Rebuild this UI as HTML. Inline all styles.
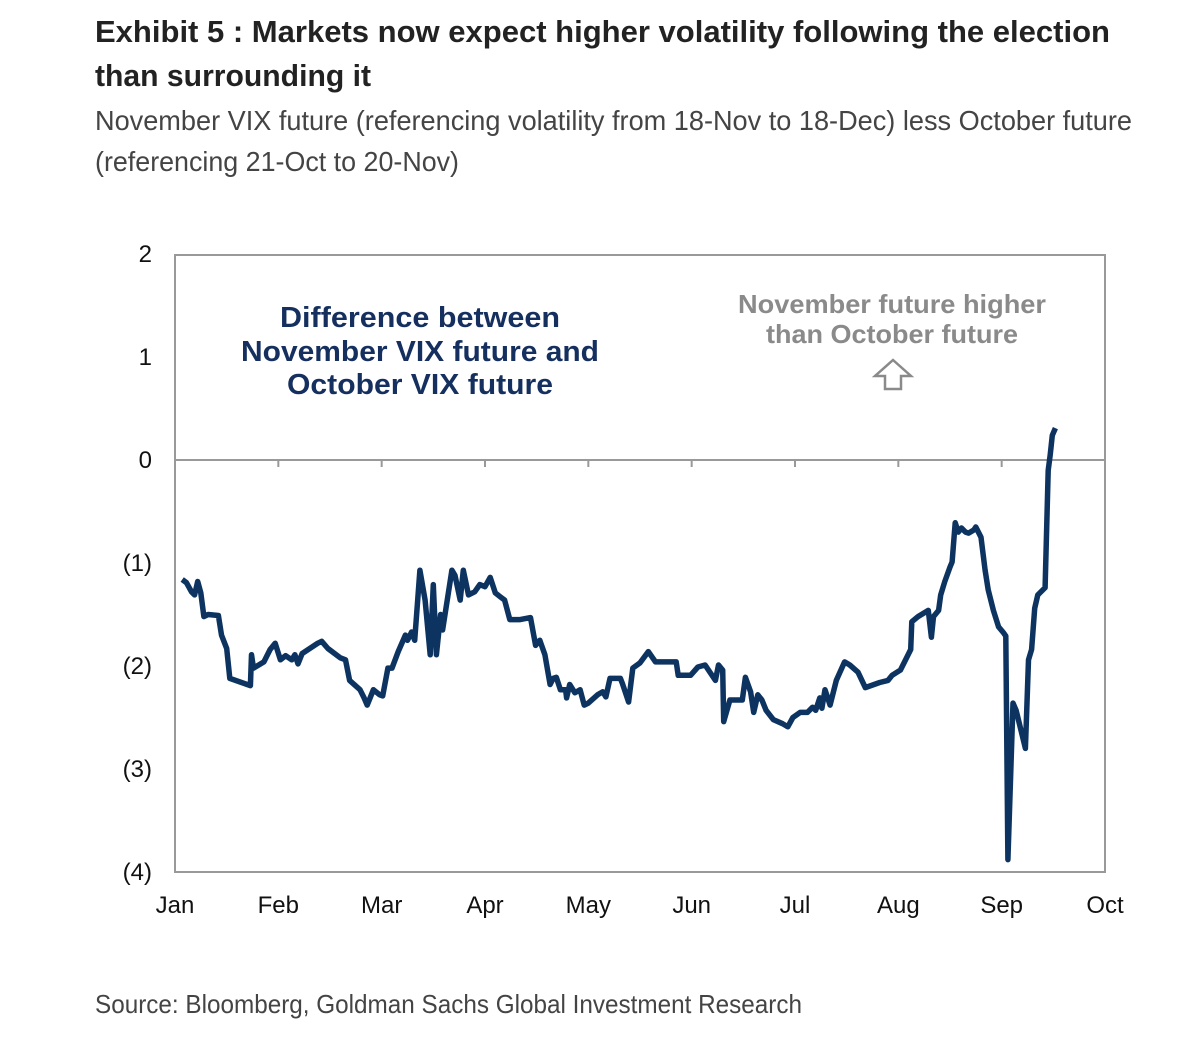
<!DOCTYPE html>
<html><head><meta charset="utf-8"><style>body{margin:0;background:#fff}svg{display:block}</style></head>
<body>
<svg id="chart" width="1200" height="1048" viewBox="0 0 1200 1048" font-family="'Liberation Sans', sans-serif">
<text x="95" y="42" font-size="31" font-weight="bold" fill="#222" textLength="1015" lengthAdjust="spacingAndGlyphs">Exhibit 5 : Markets now expect higher volatility following the election</text>
<text x="95" y="86" font-size="31" font-weight="bold" fill="#222" textLength="276" lengthAdjust="spacingAndGlyphs">than surrounding it</text>
<text x="95" y="130" font-size="28" fill="#444" textLength="1037" lengthAdjust="spacingAndGlyphs">November VIX future (referencing volatility from 18-Nov to 18-Dec) less October future</text>
<text x="95" y="171" font-size="28" fill="#444" textLength="364" lengthAdjust="spacingAndGlyphs">(referencing 21-Oct to 20-Nov)</text>
<rect x="175" y="255" width="930" height="617" fill="none" stroke="#999" stroke-width="2"/>
<g id="yaxis"></g>
<g id="xaxis"></g>
<line x1="175" y1="460" x2="1105" y2="460" stroke="#999" stroke-width="2"/>
<g id="xticks"></g>
<path id="series" fill="none" stroke="#0d3461" stroke-width="5.5" stroke-linejoin="round"/>
<g font-size="29" font-weight="bold" fill="#152f5f" text-anchor="middle">
<text x="420" y="327" textLength="280" lengthAdjust="spacingAndGlyphs">Difference between</text>
<text x="420" y="361" textLength="358" lengthAdjust="spacingAndGlyphs">November VIX future and</text>
<text x="420" y="394" textLength="266" lengthAdjust="spacingAndGlyphs">October VIX future</text>
</g>
<g font-size="26" font-weight="bold" fill="#8a8a8a" text-anchor="middle">
<text x="892" y="313" textLength="308" lengthAdjust="spacingAndGlyphs">November future higher</text>
<text x="892" y="343" textLength="252" lengthAdjust="spacingAndGlyphs">than October future</text>
</g>
<path d="M893 360 L911 376 L901 376 L901 389 L885 389 L885 376 L875 376 Z" fill="#fff" stroke="#8a8a8a" stroke-width="2.5"/>
<text x="95" y="1013" font-size="26" fill="#444" textLength="707" lengthAdjust="spacingAndGlyphs">Source: Bloomberg, Goldman Sachs Global Investment Research</text>
</svg>
<script>
const months = ["Jan","Feb","Mar","Apr","May","Jun","Jul","Aug","Sep","Oct"];
const yTicks = [2,1,0,-1,-2,-3,-4];
const yTickLabels = ["2","1","0","(1)","(2)","(3)","(4)"];
const xMonth = [0.07,0.11,0.16,0.19,0.22,0.25,0.28,0.32,0.42,0.45,0.50,0.53,0.73,0.74,0.76,0.86,0.92,0.97,1.02,1.07,1.13,1.16,1.19,1.23,1.38,1.42,1.48,1.60,1.65,1.69,1.79,1.83,1.86,1.92,1.98,2.01,2.06,2.10,2.16,2.23,2.25,2.29,2.32,2.37,2.42,2.47,2.50,2.53,2.57,2.59,2.68,2.71,2.76,2.79,2.84,2.90,2.95,3.00,3.05,3.10,3.15,3.19,3.24,3.34,3.44,3.49,3.53,3.58,3.63,3.66,3.69,3.73,3.78,3.79,3.82,3.87,3.92,3.96,4.00,4.09,4.14,4.17,4.21,4.31,4.33,4.39,4.43,4.50,4.58,4.65,4.85,4.87,4.99,5.06,5.13,5.23,5.26,5.30,5.31,5.37,5.49,5.52,5.57,5.60,5.64,5.68,5.72,5.79,5.88,5.93,5.98,6.05,6.12,6.17,6.20,6.24,6.26,6.29,6.34,6.40,6.48,6.53,6.61,6.68,6.82,6.90,6.94,7.02,7.07,7.12,7.13,7.19,7.29,7.32,7.34,7.39,7.41,7.45,7.50,7.52,7.55,7.58,7.61,7.65,7.68,7.73,7.75,7.80,7.84,7.87,7.92,7.97,8.02,8.04,8.06,8.11,8.14,8.23,8.26,8.29,8.32,8.35,8.42,8.45,8.47,8.49,8.52];
const spread = [-1.16,-1.19,-1.28,-1.31,-1.18,-1.29,-1.52,-1.50,-1.51,-1.70,-1.83,-2.12,-2.19,-1.89,-2.02,-1.96,-1.84,-1.78,-1.94,-1.90,-1.94,-1.89,-1.98,-1.88,-1.78,-1.76,-1.83,-1.92,-1.94,-2.14,-2.23,-2.31,-2.38,-2.23,-2.28,-2.29,-2.02,-2.02,-1.86,-1.70,-1.75,-1.67,-1.75,-1.07,-1.36,-1.89,-1.21,-1.89,-1.50,-1.65,-1.07,-1.12,-1.36,-1.07,-1.31,-1.28,-1.21,-1.23,-1.14,-1.29,-1.33,-1.36,-1.55,-1.55,-1.53,-1.80,-1.75,-1.89,-2.18,-2.12,-2.11,-2.23,-2.23,-2.31,-2.18,-2.26,-2.23,-2.38,-2.36,-2.28,-2.25,-2.30,-2.12,-2.12,-2.17,-2.35,-2.02,-1.97,-1.86,-1.96,-1.96,-2.09,-2.09,-2.01,-1.99,-2.14,-1.99,-2.04,-2.54,-2.33,-2.33,-2.11,-2.25,-2.45,-2.28,-2.33,-2.43,-2.52,-2.56,-2.59,-2.50,-2.45,-2.45,-2.40,-2.43,-2.31,-2.41,-2.23,-2.38,-2.14,-1.96,-1.99,-2.06,-2.21,-2.16,-2.14,-2.09,-2.04,-1.94,-1.84,-1.57,-1.52,-1.46,-1.72,-1.52,-1.46,-1.31,-1.18,-1.04,-0.99,-0.61,-0.70,-0.66,-0.70,-0.71,-0.68,-0.65,-0.75,-1.07,-1.26,-1.46,-1.62,-1.68,-1.71,-3.88,-2.36,-2.43,-2.80,-1.94,-1.84,-1.44,-1.31,-1.24,-0.10,0.05,0.24,0.31];

const X0=175, X1=1105, Y0=460, PX_PER_UNIT=103;
function xScale(m){ return X0 + m*(X1-X0)/9; }
function yScale(v){ return Y0 - v*PX_PER_UNIT; }
const NS="http://www.w3.org/2000/svg";
const ya=document.getElementById('yaxis');
yTicks.forEach((t,i)=>{
  const tx=document.createElementNS(NS,'text');
  
  
  tx.setAttribute('x',152); tx.setAttribute('y',yScale(t)+8);
  tx.setAttribute('font-size','24'); tx.setAttribute('text-anchor','end'); tx.setAttribute('fill','#111');
  tx.textContent=yTickLabels[i]; ya.appendChild(tx);
});
const xa=document.getElementById('xaxis');
months.forEach((mo,i)=>{
  const tx=document.createElementNS(NS,'text');
  
  
  tx.setAttribute('x',xScale(i)); tx.setAttribute('y',913);
  tx.setAttribute('font-size','24'); tx.setAttribute('text-anchor','middle'); tx.setAttribute('fill','#111');
  tx.textContent=mo; xa.appendChild(tx);
  const tk=document.createElementNS(NS,'line');
  
  
  tk.setAttribute('x1',xScale(i)); tk.setAttribute('x2',xScale(i));
  tk.setAttribute('y1',Y0); tk.setAttribute('y2',Y0+7);
  tk.setAttribute('stroke','#999'); tk.setAttribute('stroke-width','2');
  document.getElementById('xticks').appendChild(tk);
});
let d='';
xMonth.forEach((m,i)=>{ d+=(i?'L':'M')+xScale(m).toFixed(1)+' '+yScale(spread[i]).toFixed(1)+' '; });
document.getElementById('series').setAttribute('d',d);
</script>
</body></html>
